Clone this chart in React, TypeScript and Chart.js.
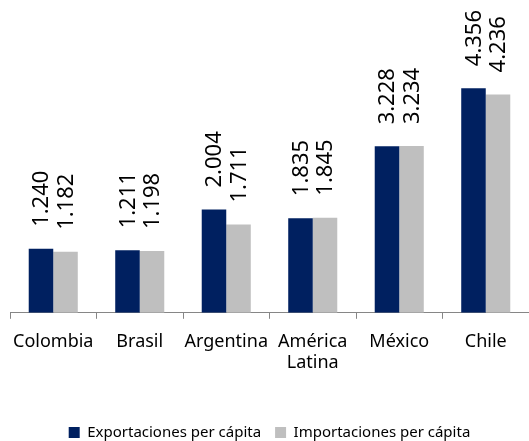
import React, { useEffect, useRef } from "react";
import { Chart, registerables } from "chart.js";

Chart.register(...registerables);

const categories: (string | string[])[] = ["Colombia", "Brasil", "Argentina", ["América", "Latina"], "México", "Chile"];
const exportaciones = [1.24, 1.211, 2.004, 1.835, 3.228, 4.356];
const importaciones = [1.182, 1.198, 1.711, 1.845, 3.234, 4.236];
const seriesNames = ["Exportaciones per cápita", "Importaciones per cápita"];

const FONT = "'Noto Sans', sans-serif";

const fmt = (v: number) => v.toFixed(3);

const labelPlugin = {
  id: "barLabels",
  afterDatasetsDraw(chart: any) {
    const ctx = chart.ctx;
    ctx.save();
    ctx.fillStyle = "#000";
    ctx.font = `22px ${FONT}`;
    ctx.textAlign = "left";
    ctx.textBaseline = "middle";
    chart.data.datasets.forEach((ds: any, di: number) => {
      const meta = chart.getDatasetMeta(di);
      meta.data.forEach((el: any, i: number) => {
        ctx.save();
        ctx.translate(el.x, el.y - 22);
        ctx.rotate(-Math.PI / 2);
        ctx.fillText(fmt(ds.data[i]), 0, 1);
        ctx.restore();
      });
    });
    ctx.restore();
  },
};

export default function App() {
  const ref = useRef<HTMLCanvasElement>(null);
  useEffect(() => {
    if (!ref.current) return;
    const chart = new Chart(ref.current, {
      type: "bar",
      data: {
        labels: categories,
        datasets: [
          { label: seriesNames[0], data: exportaciones, backgroundColor: "#002060", categoryPercentage: 0.567, barPercentage: 1 },
          { label: seriesNames[1], data: importaciones, backgroundColor: "#BFBFBF", categoryPercentage: 0.567, barPercentage: 1 },
        ],
      },
      options: {
        animation: false,
        responsive: false,
        layout: { padding: { top: 55, left: 10, right: 0, bottom: -9 } },
        scales: {
          y: { display: false, min: 0, max: 5 },
          x: {
            offset: true,
            grid: { offset: true, drawOnChartArea: false, color: "#868686", tickLength: 6 },
            border: { color: "#868686" },
            ticks: { color: "#000", font: { family: FONT, size: 18 }, padding: 12, maxRotation: 0, autoSkip: false },
            afterFit: (scale: any) => {
              scale.height += 25;
            },
          },
        },
        plugins: {
          legend: {
            position: "bottom",
            labels: { boxWidth: 11, boxHeight: 11, color: "#000", font: { family: FONT, size: 15 }, padding: 14 },
          },
          tooltip: { enabled: false },
        },
      },
      plugins: [labelPlugin],
    });
    return () => chart.destroy();
  }, []);
  return (
    <div style={{ position: "absolute", left: 0, top: 0, width: 529, height: 441, background: "#fff" }}>
      <canvas ref={ref} width={529} height={441} />
    </div>
  );
}
